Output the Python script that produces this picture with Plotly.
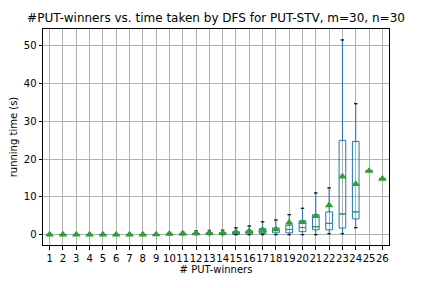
import plotly.graph_objects as go

cats = list(range(1, 27))
lower = [0, 0, 0, 0, 0, 0, 0, 0, 0, 0, 0, 0, 0, 0, 0, 0, 0, 0, 0, 0, 0, 0.26, 0.26, 1.85, 16.9, 14.8]
q1 = [0.005, 0.005, 0.005, 0.005, 0.005, 0.01, 0.01, 0.01, 0.01, 0.05, 0.05, 0.05, 0.08, 0.1, 0.1, 0.15, 0.3, 0.5, 0.5, 0.8, 1.3, 1.3, 1.75, 4.2, 16.9, 14.8]
median = [0.01, 0.01, 0.01, 0.01, 0.01, 0.02, 0.02, 0.02, 0.03, 0.1, 0.15, 0.2, 0.25, 0.3, 0.4, 0.5, 0.7, 1.1, 1.4, 1.9, 2.1, 3.0, 5.5, 6.05, 16.9, 14.8]
q3 = [0.02, 0.02, 0.02, 0.02, 0.03, 0.03, 0.04, 0.05, 0.06, 0.2, 0.3, 0.4, 0.5, 0.55, 0.8, 1.0, 1.6, 1.8, 2.5, 3.7, 5.3, 6.05, 25.0, 24.7, 16.9, 14.8]
upper = [0.05, 0.05, 0.06, 0.07, 0.08, 0.1, 0.12, 0.15, 0.2, 0.5, 0.7, 1.0, 1.15, 1.2, 1.8, 2.3, 3.4, 3.9, 5.3, 7.0, 11.05, 12.4, 51.6, 34.7, 16.9, 14.8]
means = [0.02, 0.02, 0.02, 0.02, 0.03, 0.03, 0.04, 0.05, 0.06, 0.25, 0.3, 0.35, 0.45, 0.5, 0.7, 0.95, 1.3, 1.4, 3.2, 3.3, 4.9, 7.8, 15.4, 13.4, 16.9, 14.8]

title = "#PUT-winners vs. time taken by DFS for PUT-STV, m=30, n=30"
xlabel = "# PUT-winners"
ylabel = "running time (s)"

BLUE = "#1f77b4"
GREEN = "#2ca02c"
box_w = 0.5
cap_w = 0.25

# the page body adds an 8px offset; compensate in size/margins
OFF = 8
W, H = 432 - OFF, 288 - OFF

fig = go.Figure()
fig.add_trace(go.Box(
    x=cats, q1=q1, median=median, q3=q3, lowerfence=lower, upperfence=upper,
    width=box_w, whiskerwidth=0.5, boxpoints=False,
    fillcolor="rgba(0,0,0,0)", line=dict(color=BLUE, width=1),
    hoverinfo="skip", showlegend=False,
))

# medians
mx, my = [], []
for c, m in zip(cats, median):
    mx += [c - box_w / 2, c + box_w / 2, None]
    my += [m, m, None]
fig.add_trace(go.Scatter(x=mx, y=my, mode="lines", line=dict(color=GREEN, width=1),
                         hoverinfo="skip", showlegend=False))

# caps
cx, cy = [], []
for c, lo, hi in zip(cats, lower, upper):
    cx += [c - cap_w / 2, c + cap_w / 2, None, c - cap_w / 2, c + cap_w / 2, None]
    cy += [lo, lo, None, hi, hi, None]
fig.add_trace(go.Scatter(x=cx, y=cy, mode="lines", line=dict(color="black", width=1),
                         hoverinfo="skip", showlegend=False))

# means
fig.add_trace(go.Scatter(x=cats, y=means, mode="markers",
                         marker=dict(symbol="triangle-up", color=GREEN, size=7.5,
                                     line=dict(width=0)),
                         hoverinfo="skip", showlegend=False))

axis_common = dict(showline=True, linecolor="black", linewidth=1, mirror=True,
                   showgrid=True, gridcolor="#b0b0b0", gridwidth=0.8,
                   ticks="outside", ticklen=3.5, tickcolor="black", zeroline=False,
                   automargin=False,
                   tickfont=dict(family="DejaVu Sans", size=10, color="black"))

fig.update_layout(
    width=W, height=H,
    margin=dict(l=43 - OFF, r=43, t=29 - OFF, b=43, autoexpand=False),
    paper_bgcolor="white", plot_bgcolor="white",
    font=dict(family="DejaVu Sans", size=10, color="black"),
    title=dict(text=title, x=(216 - OFF) / W, xanchor="center", y=1 - (18 - OFF) / H,
               yanchor="middle", xref="container", yref="container", automargin=False,
               font=dict(size=12, family="DejaVu Sans", color="black")),
    xaxis=dict(range=[0.5, 26.5], tickmode="array", tickvals=cats, tickangle=0,
               ticktext=[str(c) for c in cats],
               title=dict(text=xlabel, standoff=2, font=dict(size=10)), **axis_common),
    yaxis=dict(range=[-2.73, 54.5], tickmode="array", tickvals=[0, 10, 20, 30, 40, 50],
               title=dict(text=ylabel, standoff=6, font=dict(size=10)), **axis_common),
)

fig.write_html("out.html")
